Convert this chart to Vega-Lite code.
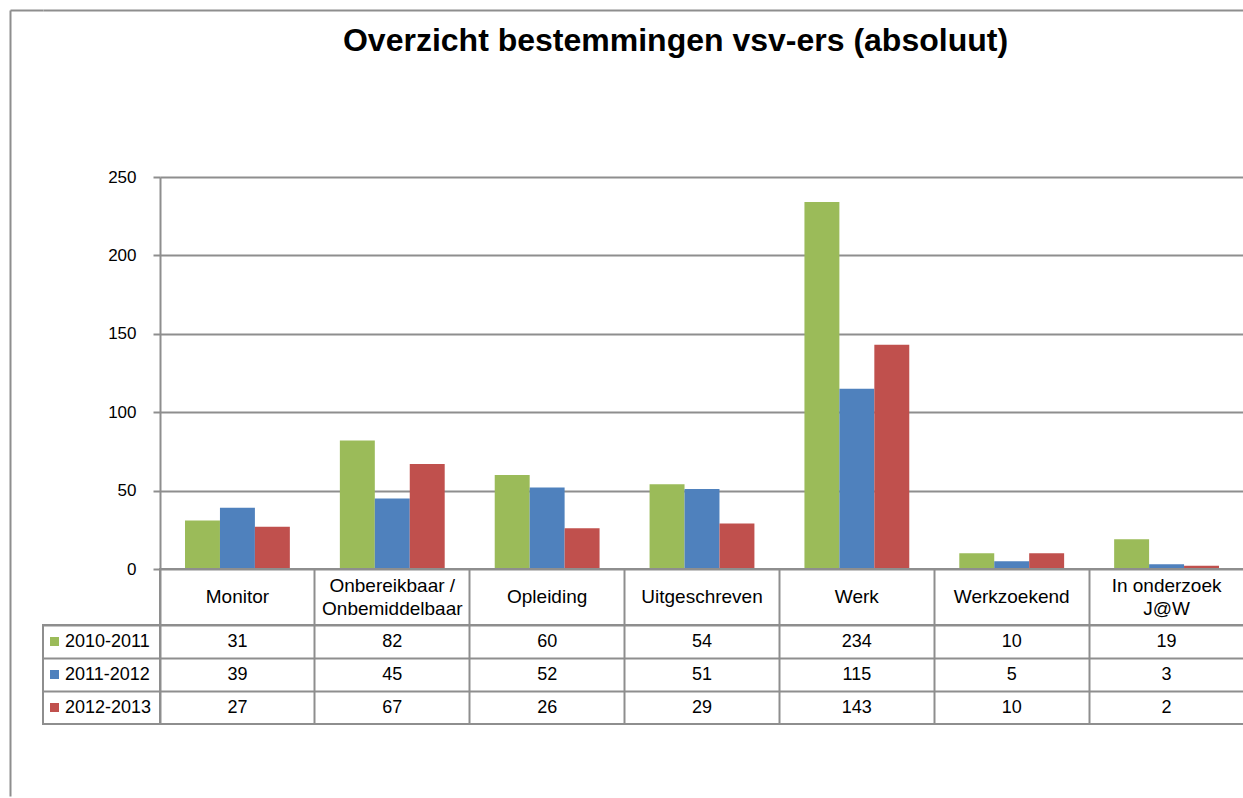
{
  "$schema": "https://vega.github.io/schema/vega-lite/v6.json",
  "padding": {"left": 7, "top": 10, "right": 0, "bottom": 0},
  "background": "white",
  "config": {
    "font": "Liberation Sans",
    "view": {"stroke": null},
    "concat": {"spacing": 0},
    "axis": {
      "gridColor": "#8e8e8e", "gridWidth": 2, "gridOpacity": 1,
      "domainColor": "#8e8e8e", "domainWidth": 2,
      "tickColor": "#8e8e8e", "tickWidth": 2,
      "labelFont": "Liberation Sans", "labelColor": "#000000"
    }
  },
  "datasets": {
    "values": [
      {"cat": "Monitor", "series": "2010-2011", "value": 31},
      {"cat": "Onbereikbaar / Onbemiddelbaar", "series": "2010-2011", "value": 82},
      {"cat": "Opleiding", "series": "2010-2011", "value": 60},
      {"cat": "Uitgeschreven", "series": "2010-2011", "value": 54},
      {"cat": "Werk", "series": "2010-2011", "value": 234},
      {"cat": "Werkzoekend", "series": "2010-2011", "value": 10},
      {"cat": "In onderzoek J@W", "series": "2010-2011", "value": 19},
      {"cat": "Monitor", "series": "2011-2012", "value": 39},
      {"cat": "Onbereikbaar / Onbemiddelbaar", "series": "2011-2012", "value": 45},
      {"cat": "Opleiding", "series": "2011-2012", "value": 52},
      {"cat": "Uitgeschreven", "series": "2011-2012", "value": 51},
      {"cat": "Werk", "series": "2011-2012", "value": 115},
      {"cat": "Werkzoekend", "series": "2011-2012", "value": 5},
      {"cat": "In onderzoek J@W", "series": "2011-2012", "value": 3},
      {"cat": "Monitor", "series": "2012-2013", "value": 27},
      {"cat": "Onbereikbaar / Onbemiddelbaar", "series": "2012-2013", "value": 67},
      {"cat": "Opleiding", "series": "2012-2013", "value": 26},
      {"cat": "Uitgeschreven", "series": "2012-2013", "value": 29},
      {"cat": "Werk", "series": "2012-2013", "value": 143},
      {"cat": "Werkzoekend", "series": "2012-2013", "value": 10},
      {"cat": "In onderzoek J@W", "series": "2012-2013", "value": 2}
    ],
    "cats": [
      {"cat": "Monitor", "label": "Monitor"},
      {"cat": "Onbereikbaar / Onbemiddelbaar", "label": "Onbereikbaar /\nOnbemiddelbaar"},
      {"cat": "Opleiding", "label": "Opleiding"},
      {"cat": "Uitgeschreven", "label": "Uitgeschreven"},
      {"cat": "Werk", "label": "Werk"},
      {"cat": "Werkzoekend", "label": "Werkzoekend"},
      {"cat": "In onderzoek J@W", "label": "In onderzoek\nJ@W"}
    ],
    "series": [
      {"series": "2010-2011"},
      {"series": "2011-2012"},
      {"series": "2012-2013"}
    ],
    "frame": [{"v": 0}],
    "title": [{"v": 0, "title": "Overzicht bestemmingen vsv-ers (absoluut)"}]
  },
  "spacing": 0,
  "bounds": "flush",
  "resolve": {"scale": {"x": "independent", "y": "independent", "color": "independent"}},
  "hconcat": [
    {
      "width": 33,
      "height": 786,
      "data": {"name": "frame"},
      "mark": {"type": "point", "opacity": 0},
      "encoding": {
        "x": {"field": "v", "type": "quantitative", "scale": {"domain": [0, 1]},
              "axis": {"orient": "top", "domain": true, "labels": false, "ticks": false, "grid": false, "title": null}},
        "y": {"field": "v", "type": "quantitative", "scale": {"domain": [0, 1]},
              "axis": {"orient": "left", "domain": true, "labels": false, "ticks": false, "grid": false, "title": null}}
      }
    },
    {
      "spacing": 0,
      "bounds": "flush",
      "resolve": {"scale": {"x": "independent", "y": "independent", "color": "independent"}},
      "vconcat": [
        {
          "width": 1201,
          "height": 62,
          "data": {"name": "title"},
          "layer": [
            {
              "mark": {"type": "point", "opacity": 0},
              "encoding": {
                "x": {"field": "v", "type": "quantitative", "scale": {"domain": [0, 1]},
                      "axis": {"orient": "top", "domain": true, "labels": false, "ticks": false, "grid": false, "title": null}}
              }
            },
            {
              "mark": {"type": "text", "fontSize": 32, "fontWeight": "bold", "font": "Liberation Sans", "color": "#000000", "baseline": "middle", "dx": 32},
              "encoding": {"text": {"field": "title", "type": "nominal"}}
            }
          ]
        },
        {
          "width": 1201,
          "height": 105,
          "data": {"name": "frame"},
          "mark": {"type": "point", "opacity": 0},
          "encoding": {}
        },
        {
          "columns": 2,
          "spacing": 0,
          "bounds": "flush",
          "align": "each",
          "resolve": {"scale": {"x": "independent", "y": "independent", "color": "independent"}},
          "concat": [
            {
              "width": 117, "height": 392,
              "data": {"name": "frame"},
              "mark": {"type": "point", "opacity": 0},
              "encoding": {}
            },
            {
              "width": 1084, "height": 392,
              "data": {"name": "values"},
              "mark": {"type": "bar"},
              "encoding": {
                "x": {"field": "cat", "type": "nominal", "sort": null,
                      "scale": {"type": "band", "domain": ["Monitor", "Onbereikbaar / Onbemiddelbaar", "Opleiding", "Uitgeschreven", "Werk", "Werkzoekend", "In onderzoek J@W"], "paddingInner": 0.323, "paddingOuter": 0.1615},
                      "axis": null},
                "xOffset": {"field": "series", "type": "nominal",
                      "scale": {"domain": ["2010-2011", "2011-2012", "2012-2013"], "paddingInner": 0, "paddingOuter": 0}},
                "y": {"field": "value", "type": "quantitative",
                      "scale": {"domain": [0, 250], "nice": false},
                      "axis": {"values": [0, 50, 100, 150, 200, 250], "grid": true, "title": null, "tickSize": 7,
                               "labelFontSize": 17, "labelPadding": 17, "domain": true}},
                "color": {"field": "series", "type": "nominal",
                      "scale": {"domain": ["2010-2011", "2011-2012", "2012-2013"], "range": ["#9BBB59", "#4F81BD", "#C0504D"]},
                      "legend": null}
              }
            },
            {
              "width": 117, "height": 56,
              "data": {"name": "frame"},
              "mark": {"type": "point", "opacity": 0},
              "encoding": {}
            },
            {
              "width": 1084, "height": 56,
              "view": {"stroke": "#8e8e8e", "strokeWidth": 2},
              "data": {"name": "cats"},
              "encoding": {
                "x": {"field": "cat", "type": "nominal", "sort": null,
                      "scale": {"type": "band", "domain": ["Monitor", "Onbereikbaar / Onbemiddelbaar", "Opleiding", "Uitgeschreven", "Werk", "Werkzoekend", "In onderzoek J@W"], "paddingInner": 0, "paddingOuter": 0},
                      "axis": {"orient": "top", "domain": false, "labels": false, "ticks": false, "grid": true, "bandPosition": 0, "title": null}},
                "text": {"field": "label", "type": "nominal"}
              },
              "layer": [
                {
                  "transform": [{"filter": "indexof(datum.label, '\\n') < 0"}],
                  "mark": {"type": "text", "fontSize": 19, "color": "#000000", "font": "Liberation Sans", "baseline": "middle"}
                },
                {
                  "transform": [{"filter": "indexof(datum.label, '\\n') >= 0"}],
                  "mark": {"type": "text", "fontSize": 19, "lineBreak": "\n", "lineHeight": 23, "color": "#000000", "font": "Liberation Sans", "baseline": "middle", "dy": -11.5}
                }
              ]
            },
            {
              "width": 117, "height": 99,
              "view": {"stroke": "#8e8e8e", "strokeWidth": 2},
              "data": {"name": "series"},
              "encoding": {
                "y": {"field": "series", "type": "nominal", "sort": null,
                      "scale": {"type": "band", "domain": ["2010-2011", "2011-2012", "2012-2013"], "paddingInner": 0, "paddingOuter": 0},
                      "axis": {"orient": "left", "domain": false, "labels": false, "ticks": false, "grid": true, "bandPosition": 0, "title": null}}
              },
              "layer": [
                {
                  "mark": {"type": "point", "shape": "square", "filled": true, "size": 81, "opacity": 1},
                  "encoding": {
                    "x": {"datum": 11.5, "type": "quantitative", "scale": {"domain": [0, 117]}, "axis": null},
                    "color": {"field": "series", "type": "nominal",
                          "scale": {"domain": ["2010-2011", "2011-2012", "2012-2013"], "range": ["#9BBB59", "#4F81BD", "#C0504D"]},
                          "legend": null}
                  }
                },
                {
                  "mark": {"type": "text", "align": "left", "fontSize": 18, "color": "#000000", "font": "Liberation Sans"},
                  "encoding": {
                    "x": {"datum": 22, "type": "quantitative", "scale": {"domain": [0, 117]}, "axis": null},
                    "text": {"field": "series", "type": "nominal"}
                  }
                }
              ]
            },
            {
              "width": 1084, "height": 99,
              "view": {"stroke": "#8e8e8e", "strokeWidth": 2},
              "data": {"name": "values"},
              "mark": {"type": "text", "fontSize": 18, "color": "#000000", "font": "Liberation Sans"},
              "encoding": {
                "x": {"field": "cat", "type": "nominal", "sort": null,
                      "scale": {"type": "band", "domain": ["Monitor", "Onbereikbaar / Onbemiddelbaar", "Opleiding", "Uitgeschreven", "Werk", "Werkzoekend", "In onderzoek J@W"], "paddingInner": 0, "paddingOuter": 0},
                      "axis": {"orient": "top", "domain": false, "labels": false, "ticks": false, "grid": true, "bandPosition": 0, "title": null}},
                "y": {"field": "series", "type": "nominal", "sort": null,
                      "scale": {"type": "band", "domain": ["2010-2011", "2011-2012", "2012-2013"], "paddingInner": 0, "paddingOuter": 0},
                      "axis": {"orient": "left", "domain": false, "labels": false, "ticks": false, "grid": true, "bandPosition": 0, "title": null}},
                "text": {"field": "value", "type": "quantitative"}
              }
            }
          ]
        }
      ]
    }
  ]
}
